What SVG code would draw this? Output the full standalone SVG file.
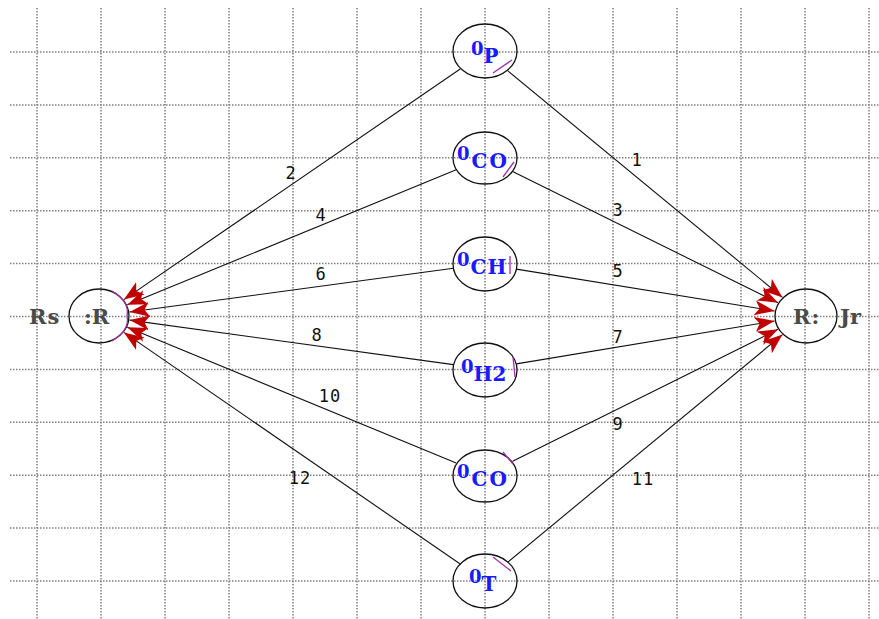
<svg xmlns="http://www.w3.org/2000/svg" width="879" height="619" viewBox="0 0 879 619">
<style>
.grid line{stroke:#808080;stroke-width:1.5;stroke-dasharray:1.5 1.5}
.node ellipse{fill:none;stroke:#111;stroke-width:1.3}
.port{fill:none;stroke:#a030a8;stroke-width:1.3}
.edge{stroke:#111;stroke-width:1.1;fill:none;marker-end:url(#arr)}
.elab{font-family:"DejaVu Sans Mono","Liberation Mono",monospace;font-size:17px;fill:#111;text-anchor:middle;letter-spacing:1px}
.nl{font-family:"DejaVu Serif","Liberation Serif",serif;font-weight:bold;fill:#1a1aff;font-size:20px}
.sup{font-size:18px}
.tl{font-family:"DejaVu Serif","Liberation Serif",serif;font-weight:bold;fill:#4a4a4a;font-size:21px}
</style>
<defs>
<marker id="arr" markerUnits="userSpaceOnUse" markerWidth="24" markerHeight="18" refX="20" refY="8" orient="auto">
<path d="M0,0.5 L20,8 L0,15.5 L5,8 Z" fill="#c00000"/>
</marker>
</defs>
<rect width="879" height="619" fill="#fff"/>
<g class="grid">
<line x1="37" y1="8" x2="37" y2="619"/><line x1="101" y1="8" x2="101" y2="619"/><line x1="165" y1="8" x2="165" y2="619"/><line x1="229" y1="8" x2="229" y2="619"/><line x1="293" y1="8" x2="293" y2="619"/><line x1="357" y1="8" x2="357" y2="619"/><line x1="421" y1="8" x2="421" y2="619"/><line x1="485" y1="8" x2="485" y2="619"/><line x1="549" y1="8" x2="549" y2="619"/><line x1="613" y1="8" x2="613" y2="619"/><line x1="677" y1="8" x2="677" y2="619"/><line x1="741" y1="8" x2="741" y2="619"/><line x1="805" y1="8" x2="805" y2="619"/><line x1="869" y1="8" x2="869" y2="619"/>
<line x1="10" y1="52" x2="879" y2="52"/><line x1="10" y1="104.9" x2="879" y2="104.9"/><line x1="10" y1="157.8" x2="879" y2="157.8"/><line x1="10" y1="210.7" x2="879" y2="210.7"/><line x1="10" y1="263.6" x2="879" y2="263.6"/><line x1="10" y1="316.5" x2="879" y2="316.5"/><line x1="10" y1="369.4" x2="879" y2="369.4"/><line x1="10" y1="422.3" x2="879" y2="422.3"/><line x1="10" y1="475.2" x2="879" y2="475.2"/><line x1="10" y1="528.1" x2="879" y2="528.1"/><line x1="10" y1="581" x2="879" y2="581"/>
</g>
<g id="connectors">
<line class="edge" x1="507.9" y1="70.9" x2="782.5" y2="297.4"/>
<line class="edge" x1="460.2" y1="69" x2="123.9" y2="299.6"/>
<line class="edge" x1="512.6" y1="171.6" x2="778" y2="302.7"/>
<line class="edge" x1="456.2" y1="169.8" x2="127.3" y2="304.8"/>
<line class="edge" x1="516.4" y1="269.1" x2="774.5" y2="311"/>
<line class="edge" x1="453.4" y1="268.3" x2="129.6" y2="312"/>
<line class="edge" x1="516.4" y1="363.9" x2="774.5" y2="321"/>
<line class="edge" x1="453.4" y1="364.6" x2="129.6" y2="320.1"/>
<line class="edge" x1="512.6" y1="461.3" x2="778" y2="329.3"/>
<line class="edge" x1="456.2" y1="463.1" x2="127.3" y2="327.3"/>
<line class="edge" x1="507.9" y1="562.1" x2="782.5" y2="334.6"/>
<line class="edge" x1="460.2" y1="564" x2="123.9" y2="332.4"/>
<text class="elab" x="637" y="166">1</text>
<text class="elab" x="291" y="179">2</text>
<text class="elab" x="618" y="216">3</text>
<text class="elab" x="321" y="221">4</text>
<text class="elab" x="618" y="277">5</text>
<text class="elab" x="321" y="280">6</text>
<text class="elab" x="618" y="343">7</text>
<text class="elab" x="317" y="341">8</text>
<text class="elab" x="618" y="430">9</text>
<text class="elab" x="330" y="402">10</text>
<text class="elab" x="643" y="485">11</text>
<text class="elab" x="300" y="484">12</text>
</g>
<g id="node-Rs" class="node">
<ellipse cx="99" cy="316" rx="30" ry="27"/>
<path class="port" d="M112,291 Q130,302 127,316 Q130,330 112,341"/>
<text class="tl" x="29" y="324" letter-spacing="1">Rs</text>
<text class="tl" x="84" y="324">:R</text>
</g>
<g id="node-Jr" class="node">
<ellipse cx="806" cy="316" rx="31" ry="27"/>
<text class="tl" x="793" y="324" letter-spacing="1">R:</text>
<text class="tl" x="840" y="324">Jr</text>
</g>
<g id="node-P" class="node">
<ellipse cx="485" cy="51" rx="32" ry="27"/>
<line class="port" x1="493" y1="73" x2="512" y2="60"/>
<text class="nl" x="471" y="63"><tspan class="sup" dy="-8">0</tspan><tspan dy="8">P</tspan></text>
</g>
<g id="node-CO1" class="node">
<ellipse cx="485" cy="158" rx="32" ry="26"/>
<line class="port" x1="503" y1="177" x2="514" y2="162"/>
<text class="nl" x="457" y="168" letter-spacing="2"><tspan class="sup" dy="-8">0</tspan><tspan dy="8">CO</tspan></text>
</g>
<g id="node-CH" class="node">
<ellipse cx="485" cy="264" rx="32" ry="27"/>
<line class="port" x1="510" y1="256" x2="510" y2="274"/>
<text class="nl" x="457" y="274" letter-spacing="1"><tspan class="sup" dy="-8">0</tspan><tspan dy="8">CH</tspan></text>
</g>
<g id="node-H2" class="node">
<ellipse cx="485" cy="370" rx="32" ry="27"/>
<line class="port" x1="513" y1="357" x2="515" y2="377"/>
<text class="nl" x="461" y="381"><tspan class="sup" dy="-8">0</tspan><tspan dy="8">H2</tspan></text>
</g>
<g id="node-CO2" class="node">
<ellipse cx="485" cy="476" rx="32" ry="26"/>
<line class="port" x1="503" y1="452" x2="513" y2="464"/>
<text class="nl" x="457" y="486" letter-spacing="2"><tspan class="sup" dy="-8">0</tspan><tspan dy="8">CO</tspan></text>
</g>
<g id="node-T" class="node">
<ellipse cx="485" cy="581" rx="32" ry="27"/>
<line class="port" x1="493" y1="557" x2="511" y2="571"/>
<text class="nl" x="469" y="591"><tspan class="sup" dy="-8">0</tspan><tspan dy="8">T</tspan></text>
</g>
</svg>
